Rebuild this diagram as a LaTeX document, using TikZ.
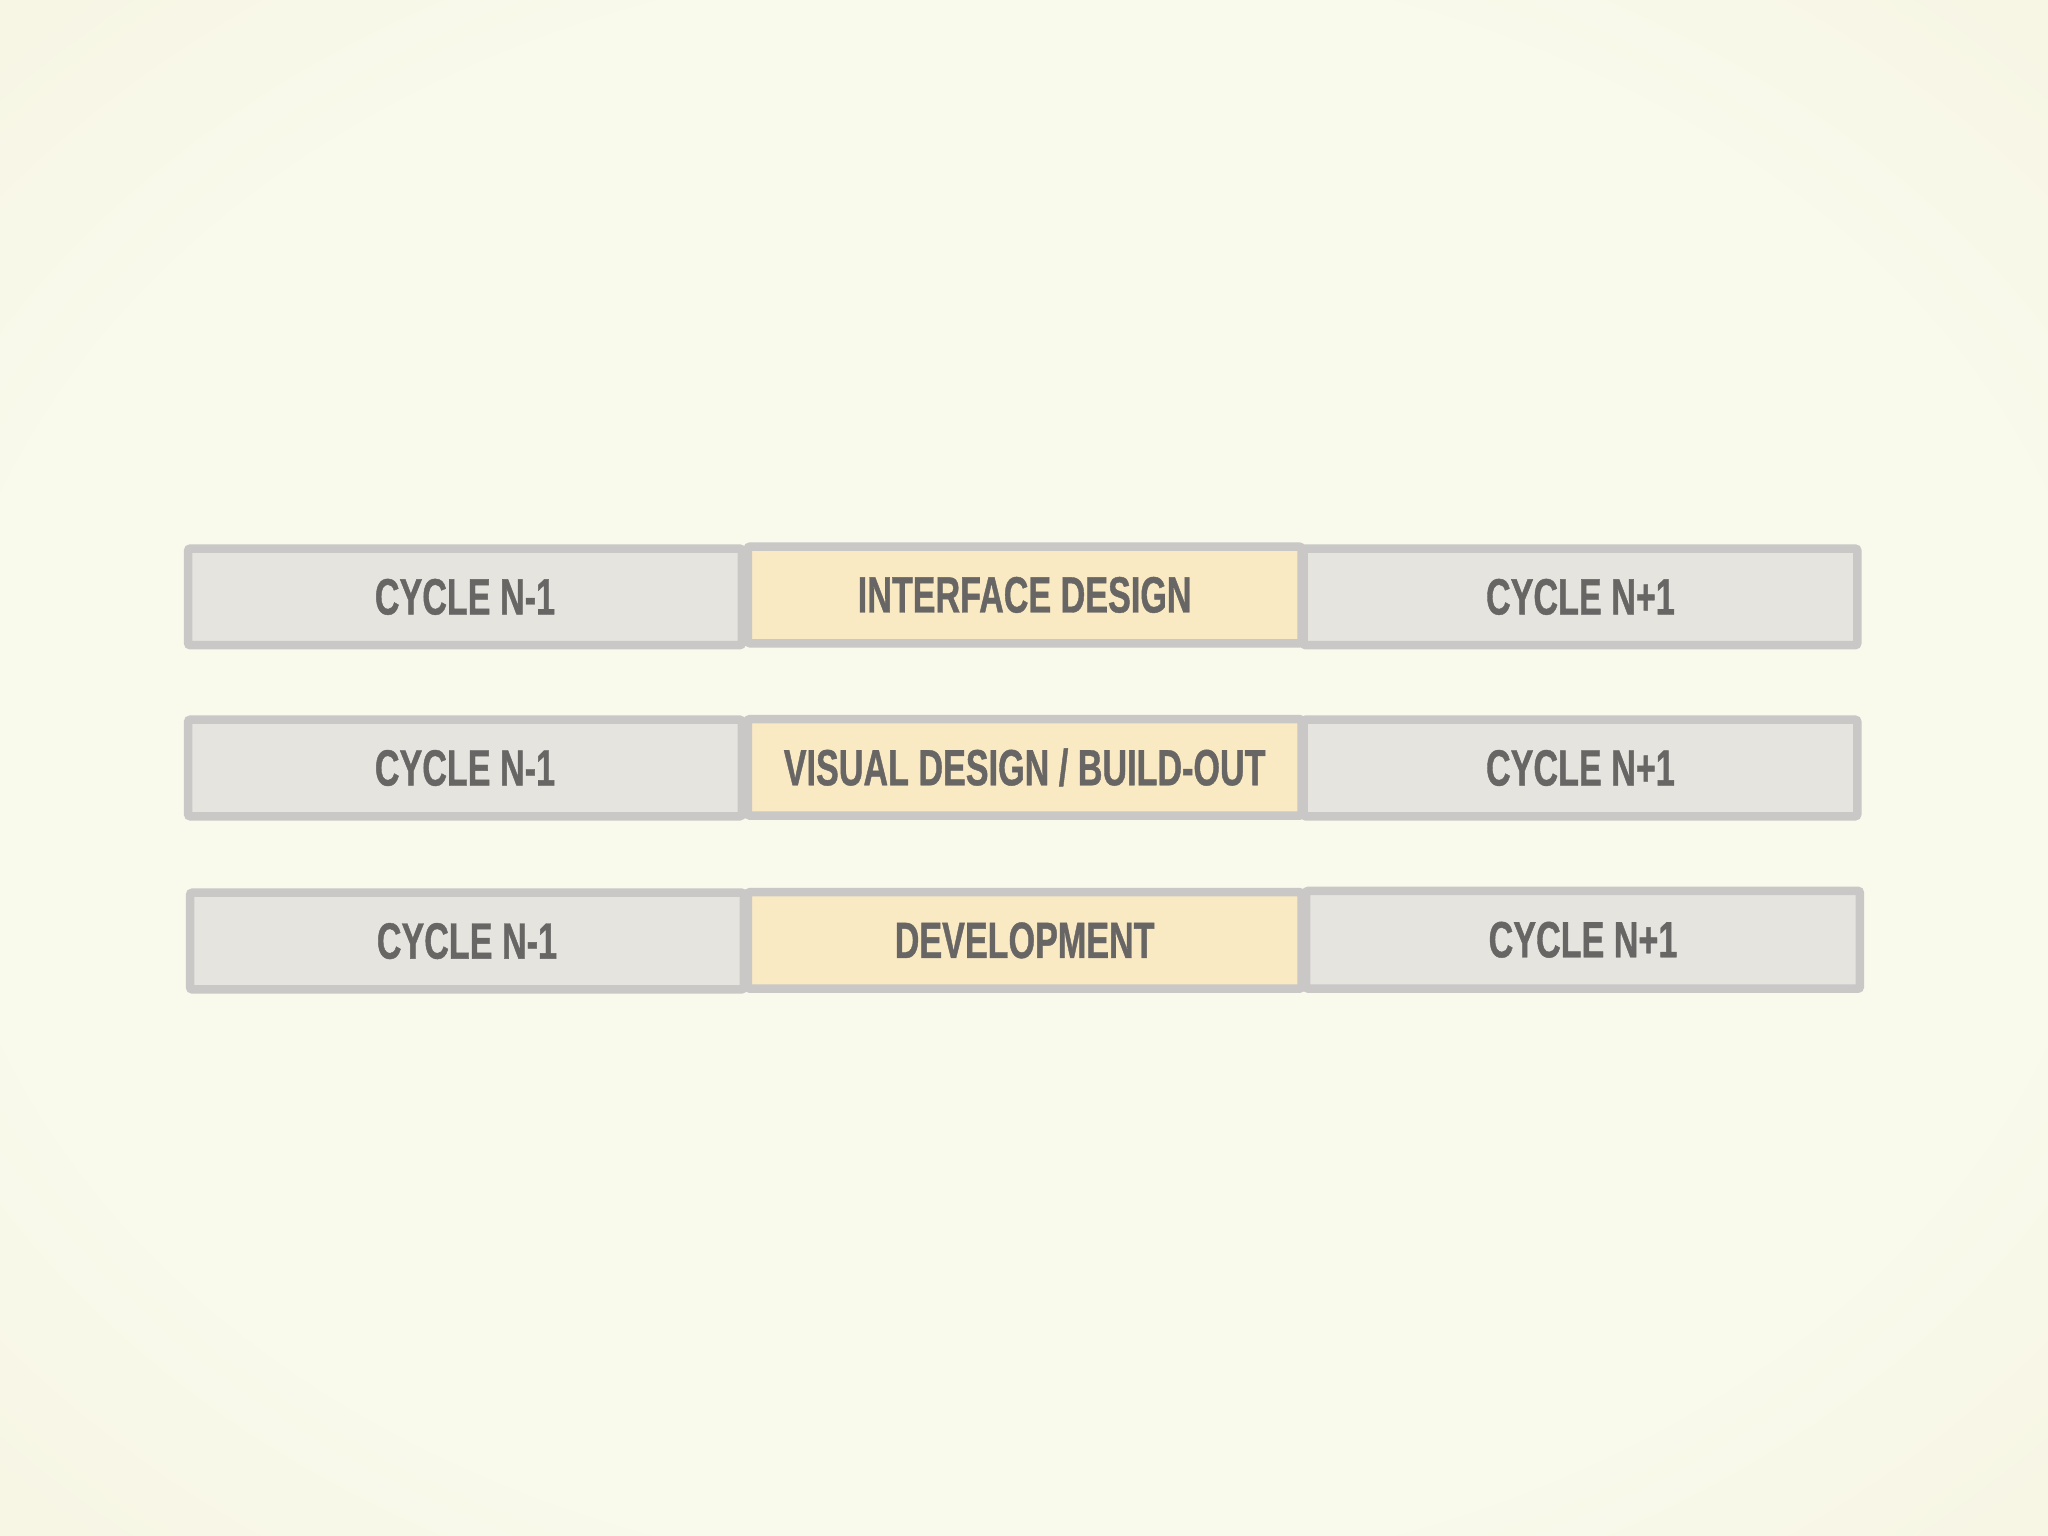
\documentclass[tikz,border=0pt]{standalone}
\usepackage{fontspec}
\newfontfamily\cellfont{Liberation Sans}[FakeStretch=0.67, FakeBold=0.8]
\definecolor{bgin}{HTML}{F9FAEC}
\definecolor{bgside}{HTML}{F4EFD9}
\definecolor{bgcorner}{HTML}{ECDDBB}
\definecolor{cellline}{HTML}{C9C8C7}
\definecolor{cellgray}{HTML}{E5E4DF}
\definecolor{cellyellow}{HTML}{FAEAC4}
\definecolor{celltext}{HTML}{686665}
\pgfdeclareradialshading{paper}{\pgfpoint{0bp}{0bp}}{%
  color(0bp)=(bgin); color(18bp)=(bgin); color(35bp)=(bgside); color(50bp)=(bgcorner)}
\begin{document}
\begin{tikzpicture}[x=1cm, y=-1cm,
        cell/.style={rectangle, draw=cellline, line width=0.065cm, inner sep=0pt,
            rounded corners=0.5pt,
            minimum width=4.24cm, minimum height=0.74cm, text=celltext,
            font=\cellfont\bfseries\fontsize{11.1}{13}\selectfont},
        cycle/.style={cell, fill=cellgray},
        phase/.style={cell, fill=cellyellow}
    ]
    % Background
    \useasboundingbox (0,0) rectangle (15.68,11.76);
    \begin{scope}
        \clip (0,0) rectangle (15.68,11.76);
        \shade[shading=paper] (-3.25,-2.44) rectangle (18.93,14.20);
    \end{scope}
    % Row 1
    \node[cycle] (prevA) at (3.56, 4.57) {CYCLE N-1};
    \node[cycle] (nextA) at (12.10, 4.57) {CYCLE N+1};
    \node[phase] (interface) at (7.845, 4.555) {INTERFACE DESIGN};
    % Row 2
    \node[cycle] (prevB) at (3.56, 5.88) {CYCLE N-1};
    \node[cycle] (nextB) at (12.10, 5.88) {CYCLE N+1};
    \node[phase] (visual) at (7.845, 5.875) {VISUAL DESIGN / BUILD-OUT};
    % Row 3
    \node[cycle] (prevC) at (3.575, 7.205) {CYCLE N-1};
    \node[cycle, minimum height=0.75cm] (nextC) at (12.12, 7.195) {CYCLE N+1};
    \node[phase] (development) at (7.845, 7.2) {DEVELOPMENT};
\end{tikzpicture}
\end{document}
